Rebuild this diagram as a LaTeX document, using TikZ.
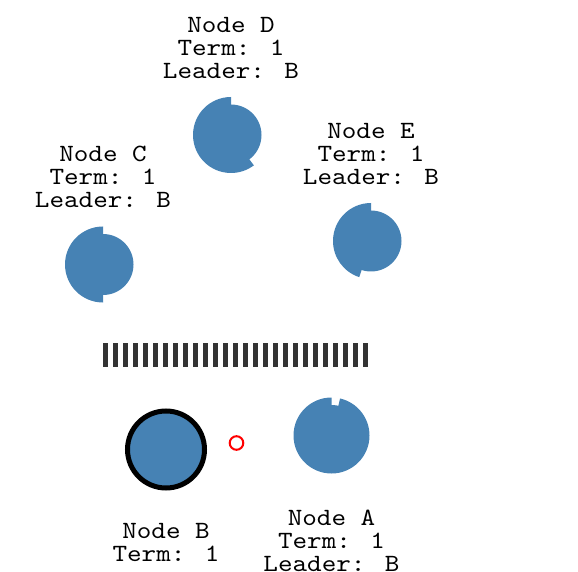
\documentclass[tikz,border=0pt]{standalone}
\usepackage{fontspec}
\newfontfamily\monofnt{lmmono10-regular.otf}[FakeStretch=1.12]
\usetikzlibrary{positioning}
\definecolor{srvblue}{RGB}{70,130,180}
\definecolor{bargray}{RGB}{51,51,51}
\tikzset{
    lbl/.style={font=\monofnt\fontsize{24.8}{23}\selectfont, align=center, inner sep=0pt},
    srv/.style={fill=srvblue},
}
% timer circle: centre, angle where the full radius stops
\newcommand{\srvtimer}[2]{%
    \fill[srv] (#1) circle[radius=30.5];
    \fill[srv] (#1) -- ++(90:38) arc[start angle=90, end angle=#2, radius=38] -- cycle;
}

\begin{document}
\begin{tikzpicture}[x=1pt,y=1pt]
        \clip (0,0) rectangle (578,571);
        \coordinate (srvD) at (231,436);
        \coordinate (srvC) at (103,306.5);
        \coordinate (srvE) at (371,330);
        \coordinate (srvA) at (331.5,135.5);
        \coordinate (srvB) at (166,121.5);
        \coordinate (msg) at (236.5,128);

        \srvtimer{srvD}{307}
        \srvtimer{srvC}{270}
        \srvtimer{srvE}{252}
        \srvtimer{srvA}{437}
        \draw[line width=5pt, fill=srvblue] (srvB) circle[radius=38.5];
        \draw[red, line width=2pt] (msg) circle[radius=6.8];

        % log bars
        \foreach \i in {0,...,26}{
            \fill[bargray] ({103+10*\i},204) rectangle ({108+10*\i},228);
        }

        \node[lbl, above=56.5 of srvD] (lblD) {Node D\\Term: 1\\Leader: B};
        \node[lbl, above=56.5 of srvC] (lblC) {Node C\\Term: 1\\Leader: B};
        \node[lbl, above=56.5 of srvE] (lblE) {Node E\\Term: 1\\Leader: B};
        \node[lbl, below=74 of srvA] (lblA) {Node A\\Term: 1\\Leader: B};
        \node[lbl, below=74 of srvB] (lblB) {Node B\\Term: 1};
    \end{tikzpicture}
\end{document}
